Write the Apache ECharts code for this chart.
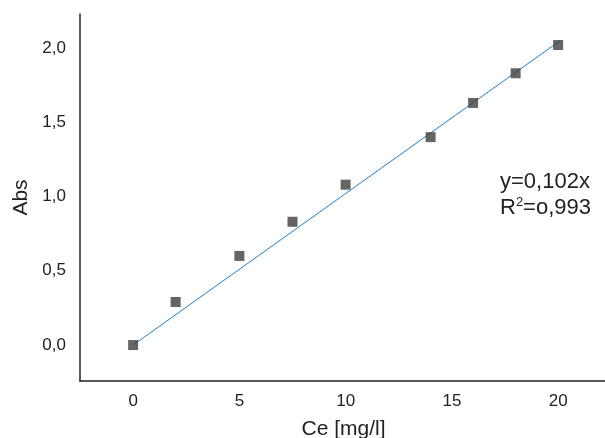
<!DOCTYPE html>
<html lang="en">
<head>
	<meta charset="UTF-8">
	<title>Abs vs Ce</title>
	<style>
		html, body { margin: 0; padding: 0; background: #fff; }
		#chartBox { width: 605px; height: 438px; }
	</style>
</head>
<body>
<div id="chartBox"></div>
<script src="https://cdn.jsdelivr.net/npm/echarts@6/dist/echarts.min.js"></script>
<script>
    // measured points
    var ceValues = [0, 2, 5, 7.5, 10, 14, 16, 18, 20];
    var absValues = [0, 0.29, 0.60, 0.83, 1.08, 1.40, 1.63, 1.83, 2.02];
    // fit line y = 0.102x, its two ends
    var fitX = [0, 20.1];
    var slope = 0.102;
    var xTicks = [0, 5, 10, 15, 20];
    var yTicks = [0, 0.5, 1, 1.5, 2];

    var points = ceValues.map(function (x, i) { return [x, absValues[i]]; });
    var fitLine = fitX.map(function (x) { return [x, slope * x]; });

    var font = 'Liberation Sans, Arial, sans-serif';
    var myChart = echarts.init(document.getElementById('chartBox'));
    var option = {
        animation: false,
        grid: { left: 80, top: 14, width: 527, bottom: 57, containLabel: false, outerBoundsMode: 'none' },
        xAxis: {
            type: 'value',
            min: -2.5,
            max: 22.3,
            name: 'Ce [mg/l]',
            nameLocation: 'middle',
            nameGap: 38,
            nameTextStyle: { fontSize: 21, color: '#222', fontFamily: font },
            axisLine: { show: true, onZero: false, lineStyle: { color: '#222', width: 1.5 } },
            axisTick: { show: false },
            splitLine: { show: false },
            axisLabel: {
                customValues: xTicks,
                margin: 12,
                fontSize: 17,
                color: '#222',
                fontFamily: font
            }
        },
        yAxis: {
            type: 'value',
            min: -0.242,
            max: 2.229,
            name: 'Abs',
            nameLocation: 'middle',
            nameGap: 47,
            nameTextStyle: { fontSize: 21, color: '#222', fontFamily: font },
            axisLine: { show: true, onZero: false, lineStyle: { color: '#222', width: 1.5 } },
            axisTick: { show: false },
            splitLine: { show: false },
            axisLabel: {
                customValues: yTicks,
                margin: 14,
                fontSize: 17,
                color: '#222',
                fontFamily: font,
                formatter: function (v) { return v.toFixed(1).replace('.', ','); }
            }
        },
        series: [
            {
                type: 'line',
                data: fitLine,
                symbol: 'none',
                lineStyle: { color: '#1f7fc4', width: 1 },
                z: 2
            },
            {
                type: 'scatter',
                data: points,
                symbol: 'rect',
                symbolSize: 10,
                itemStyle: { color: '#3f3f3f' },
                z: 3
            }
        ],
        graphic: [
            {
                type: 'text',
                left: 500,
                top: 171,
                style: {
                    text: 'y=0,102x',
                    fontSize: 22,
                    fill: '#222',
                    fontFamily: font
                }
            },
            {
                type: 'text',
                left: 500,
                top: 196,
                style: {
                    text: 'R{sup|2}=o,993',
                    fontSize: 22,
                    fill: '#222',
                    fontFamily: font,
                    rich: {
                        sup: { fontSize: 13, verticalAlign: 'top', padding: [0, 0, 10, 0], fill: '#222', fontFamily: font }
                    }
                }
            }
        ]
    };
    myChart.setOption(option);
</script>
</body>
</html>
